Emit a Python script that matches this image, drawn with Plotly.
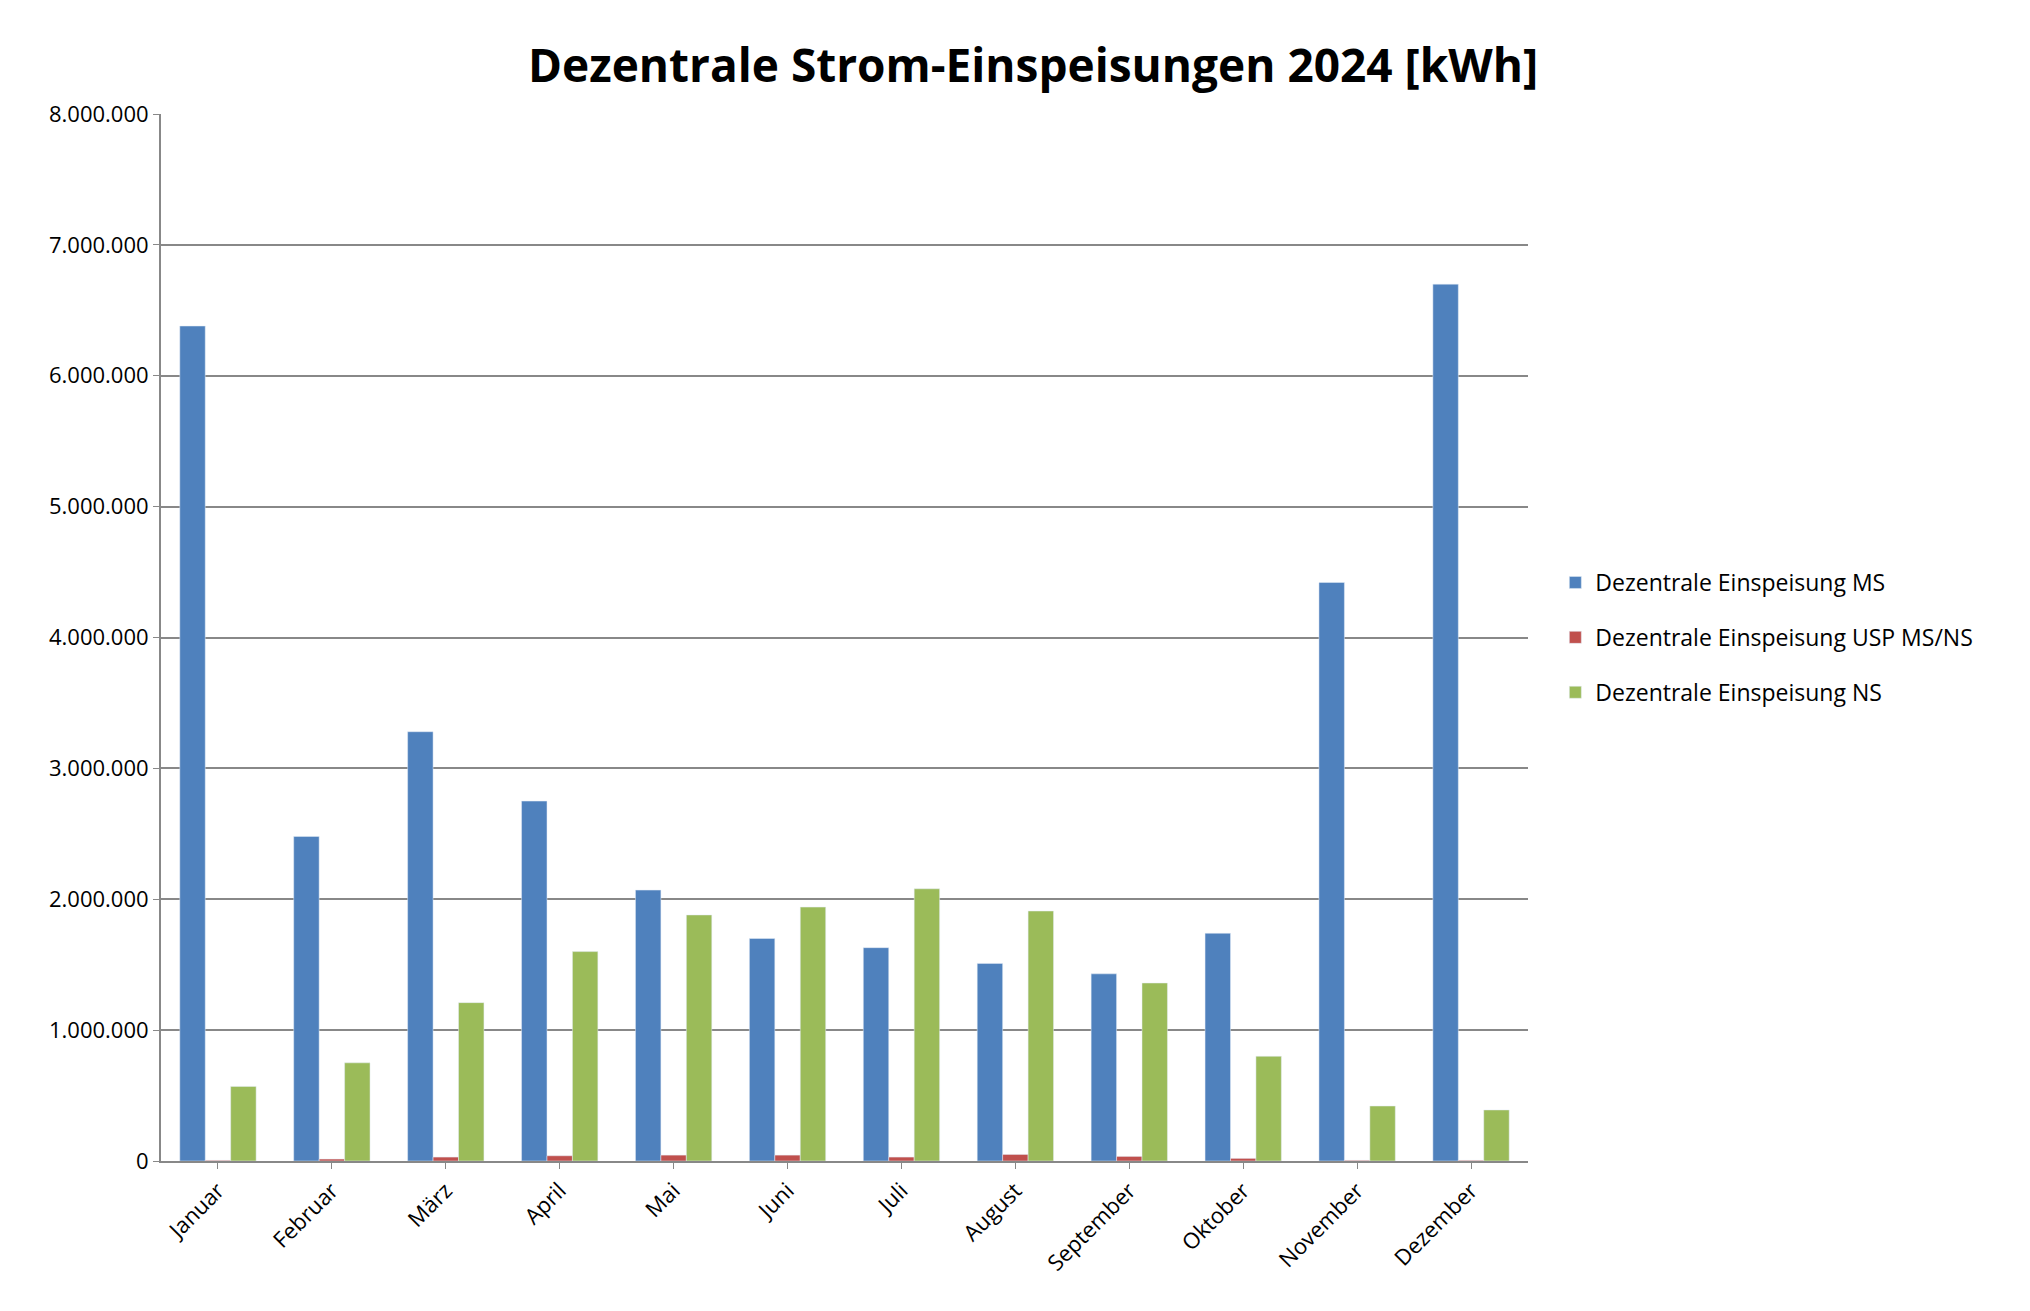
import plotly.graph_objects as go

months = ["Januar","Februar","März","April","Mai","Juni","Juli","August","September","Oktober","November","Dezember"]
ms = [6380000,2480000,3280000,2750000,2070000,1700000,1630000,1510000,1430000,1740000,4420000,6700000]
usp = [5000,15000,30000,40000,45000,45000,30000,50000,35000,20000,5000,5000]
ns = [570000,750000,1210000,1600000,1880000,1940000,2080000,1910000,1360000,800000,420000,390000]

fig = go.Figure()
fig.add_bar(x=months, y=ms, name="Dezentrale Einspeisung MS", marker_color="#4F81BD", legendgroup="a")
fig.add_bar(x=months, y=usp, name="Dezentrale Einspeisung USP MS/NS", marker_color="#C0504D", legendgroup="b")
fig.add_bar(x=months, y=ns, name="Dezentrale Einspeisung NS", marker_color="#9BBB59", legendgroup="c")

fig.update_layout(
    width=2030, height=1311,
    paper_bgcolor="white", plot_bgcolor="white",
    separators=",.",
    font=dict(family="Open Sans", size=22, color="black"),
    title=dict(text="<b>Dezentrale Strom-Einspeisungen 2024 [kWh]</b>", x=0.505, xanchor="center", y=0.968, font=dict(size=46)),
    margin=dict(l=153, r=510, t=106, b=158),
    barmode="group", bargap=0.33, bargroupgap=0,
    legend=dict(x=1.02, y=0.5, yanchor="middle", font=dict(size=23), tracegroupgap=22, itemwidth=30),
    xaxis=dict(tickangle=-45, showline=True, linecolor="#888888", linewidth=2, ticks="outside", ticklen=6, tickcolor="#888888", tickfont=dict(size=22)),
    yaxis=dict(range=[0,8000000], dtick=1000000, tickformat=",d", showline=True, linecolor="#888888", linewidth=2,
               gridcolor="#888888", gridwidth=1.5, ticks="outside", ticklen=6, tickcolor="#888888", tickfont=dict(size=22), zeroline=False),
)
fig.write_html("out.html")
